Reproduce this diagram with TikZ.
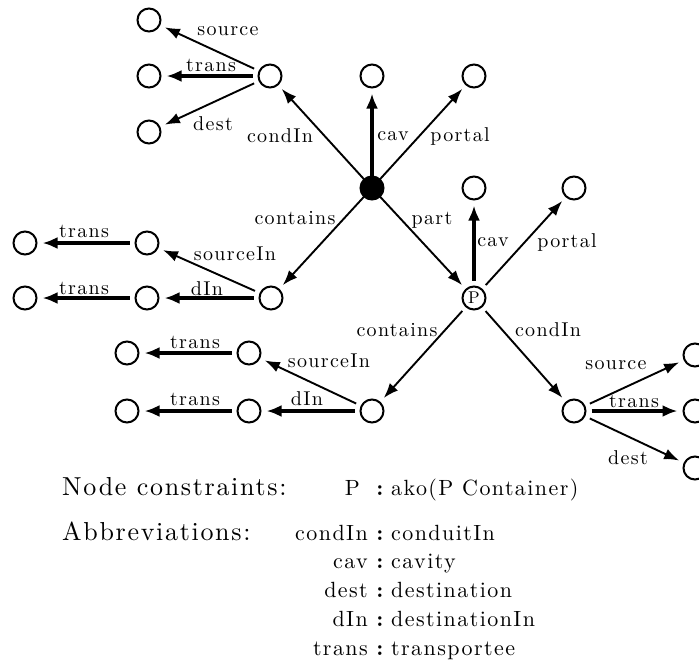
\documentclass[tikz,border=0pt]{standalone}
\usepackage{fontspec}
\usetikzlibrary{arrows.meta}
% spaced-out roman in the 10pt design, used for all text of the picture
\newfontfamily\spacedrm{lmroman10-regular.otf}[LetterSpace=6.5]
\newfontfamily\spacedbf{lmroman10-bold.otf}
\begin{document}
\begin{tikzpicture}[x=1pt,y=-1pt,
  vertex/.style={circle,draw,line width=2pt,minimum size=23pt,inner sep=0pt,outer sep=6pt},
  hub/.style={circle,draw,fill=black,line width=1pt,minimum size=24pt,inner sep=0pt,outer sep=0pt},
  pnode/.style={vertex,font=\fontsize{17}{19}\spacedrm},
  rel/.style={line width=1.9pt,-{Latex[length=15pt,width=11pt]}},
  strong/.style={line width=4.5pt,-{Latex[length=15pt,width=12pt]}},
  lbl/.style={font=\fontsize{20}{24}\spacedrm,inner sep=0pt},
  head/.style={font=\fontsize{26}{30}\spacedrm,inner sep=0pt,anchor=base west},
  abbr/.style={font=\fontsize{22}{25}\spacedrm,inner sep=0pt},
  sep/.style={font=\fontsize{22}{25}\spacedbf,inner sep=0pt,anchor=base}
]
\useasboundingbox (0,0) rectangle (699,667);

% graph nodes
\node[hub] (root) at (372,188) {};
\node[vertex] (a)   at (270,76) {};
\node[vertex] (a1)  at (149,20) {};
\node[vertex] (a2)  at (149,76) {};
\node[vertex] (a3)  at (149,132) {};
\node[vertex] (cv)  at (372,76) {};
\node[vertex] (pt)  at (474,76) {};
\node[vertex] (pc)  at (474,188) {};
\node[vertex] (pp)  at (574,188) {};
\node[vertex] (c1)  at (271,298) {};
\node[vertex] (c1s) at (147,243) {};
\node[vertex] (c1st) at (25,243) {};
\node[vertex] (c1d) at (147,298) {};
\node[vertex] (c1dt) at (25,298) {};
\node[pnode] (P)    at (474,298) {P};
\node[vertex] (c2)  at (372,411) {};
\node[vertex] (c2s) at (249,353) {};
\node[vertex] (c2st) at (127,353) {};
\node[vertex] (c2d) at (249,411) {};
\node[vertex] (c2dt) at (127,411) {};
\node[vertex] (d)   at (574,411) {};
\node[vertex] (d1)  at (695,355) {};
\node[vertex] (d2)  at (695,411) {};
\node[vertex] (d3)  at (695,468) {};

% connectors
\draw[rel] (root) -- (a);
\draw[strong] (root) -- (cv);
\draw[rel] (root) -- (pt);
\draw[rel] (root) -- (c1);
\draw[rel] (root) -- (P);
\draw[rel] (a) -- (a1);
\draw[strong] (a) -- (a2);
\draw[rel] (a) -- (a3);
\draw[strong] (P) -- (pc);
\draw[rel] (P) -- (pp);
\draw[rel] (c1) -- (c1s);
\draw[strong] (c1) -- (c1d);
\draw[strong] (c1s) -- (c1st);
\draw[strong] (c1d) -- (c1dt);
\draw[rel] (P) -- (c2);
\draw[rel] (P) -- (d);
\draw[rel] (c2) -- (c2s);
\draw[strong] (c2) -- (c2d);
\draw[strong] (c2s) -- (c2st);
\draw[strong] (c2d) -- (c2dt);
\draw[rel] (d) -- (d1);
\draw[strong] (d) -- (d2);
\draw[rel] (d) -- (d3);

% connector labels
\node[lbl] (l1)  at (228,31)  {source};
\node[lbl] (l2)  at (211,65)  {trans};
\node[lbl] (l3)  at (213,124) {dest};
\node[lbl] (l4)  at (280,136) {condIn};
\node[lbl] (l5)  at (393,136) {cav};
\node[lbl] (l6)  at (460,136) {portal};
\node[lbl] (l7)  at (295,218) {contains};
\node[lbl] (l8)  at (432,220) {part};
\node[lbl] (l9)  at (493,242) {cav};
\node[lbl] (l10) at (567,242) {portal};
\node[lbl] (l11) at (84,231)  {trans};
\node[lbl] (l12) at (235,254) {sourceIn};
\node[lbl] (l13) at (84,288)  {trans};
\node[lbl] (l14) at (207,289) {dIn};
\node[lbl] (l15) at (397,330) {contains};
\node[lbl] (l16) at (548,330) {condIn};
\node[lbl] (l17) at (195,342) {trans};
\node[lbl] (l18) at (329,361) {sourceIn};
\node[lbl] (l19) at (195,399) {trans};
\node[lbl] (l20) at (307,399) {dIn};
\node[lbl] (l21) at (616,365) {source};
\node[lbl] (l22) at (634,401) {trans};
\node[lbl] (l23) at (628,458) {dest};

% legend
\node[head] (nc) at (62,495) {Node constraints:};
\node[abbr,anchor=base east] (ncP) at (360,495) {P};
\node[sep] (ncs) at (380,495) {:};
\node[abbr,anchor=base west] (ncv) at (391,495) {ako(P Container)};

\node[head] (ab) at (62,540) {Abbreviations:};
\foreach \k/\v [count=\i from 0] in {condIn/conduitIn,cav/cavity,dest/destination,dIn/destinationIn,trans/transportee}{
  \node[abbr,anchor=base east] (k\i) at (368,540+28.75*\i) {\k};
  \node[sep] (s\i) at (380,540+28.75*\i) {:};
  \node[abbr,anchor=base west] (v\i) at (391,540+28.75*\i) {\v};
}
\end{tikzpicture}
\end{document}
